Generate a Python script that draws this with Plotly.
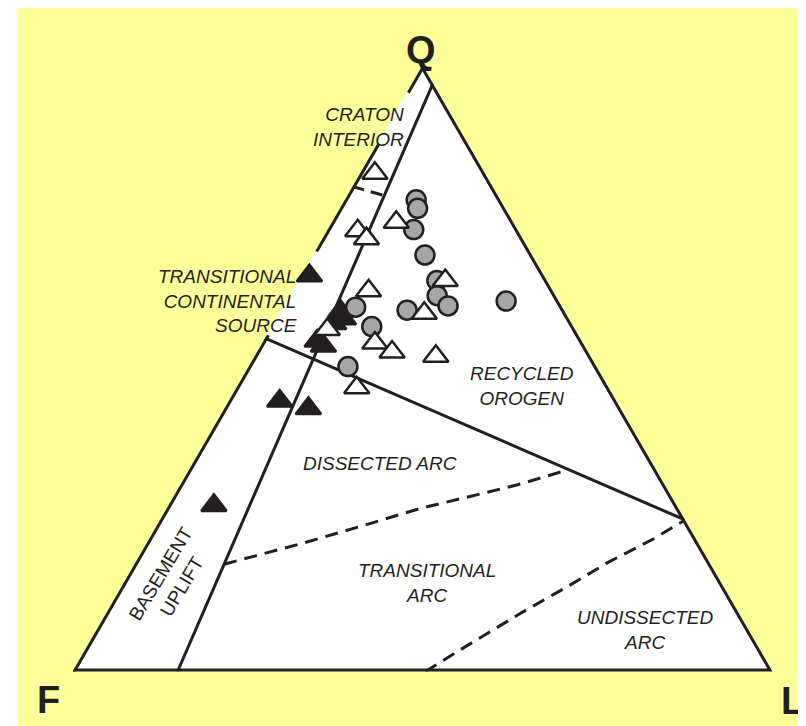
import plotly.graph_objects as go

# the page puts the plot 8px in from the top-left corner of the window
OFF = 8
W, H = 806 - OFF, 726 - OFF

# sample compositions in % (Q, F, L)
open_q = [82.2, 74.1, 72.7, 71.4, 64.5, 62.8, 59.1, 56.4, 54.2, 52.7, 52.0, 46.8]
open_f = [15.7, 16.7, 22.9, 22.3, 14.5, 26.3, 20.2, 35.4, 29.7, 28.0, 22.1, 36.0]
open_l = [2.1, 9.2, 4.4, 6.3, 21.0, 10.9, 20.7, 8.2, 16.1, 19.3, 25.9, 17.2]

solid_q = [65.3, 59.4, 58.2, 57.4, 54.5, 53.7, 44.6, 43.4, 27.4]
solid_f = [33.5, 32.0, 32.2, 34.0, 37.8, 37.3, 48.1, 44.6, 66.1]
solid_l = [1.2, 8.6, 9.6, 8.6, 7.7, 9.0, 7.3, 12.0, 6.5]

grey_q = [77.8, 76.4, 72.9, 68.7, 64.5, 62.0, 60.3, 59.6, 61.1, 60.1, 56.9, 50.3]
grey_f = [12.0, 12.5, 14.8, 15.3, 15.7, 16.9, 16.2, 22.4, 7.5, 29.5, 28.8, 35.5]
grey_l = [10.2, 11.1, 12.3, 16.0, 19.8, 21.1, 23.5, 18.0, 31.4, 10.4, 14.3, 14.2]

# triangle outline (left side broken where the labels sit)
edge_q = [0, 0, 100, None, 100, 95.6, None, 87.2, 69.4, None, 55.6, 0]
edge_f = [100, 0, 0, None, 0, 4.4, None, 12.8, 30.6, None, 44.4, 100]
edge_l = [0, 100, 0, None, 0, 0, None, 0, 0, None, 0, 0]

# field boundaries (Dickinson QFL)
cont_q, cont_f, cont_l = [97, 0], [0, 85], [3, 15]
orog_q, orog_f, orog_l = [55, 25], [45, 0], [0, 75]
crat_q, crat_f, crat_l = [80.0, 78.5], [20.0, 16.2], [0, 5.3]
diss_q = [17.7, 21.0, 23.9, 26.9, 28.6, 30.8, 33.3]
diss_f = [69.5, 57.1, 47.0, 36.9, 29.9, 21.0, 12.5]
diss_l = [12.8, 21.9, 29.1, 36.2, 41.5, 48.2, 54.2]
undi_q = [0, 3.9, 9.6, 14.0, 18.0, 21.9, 25.0]
undi_f = [49.6, 42.2, 31.2, 22.3, 14.5, 6.0, 0]
undi_l = [50.4, 53.9, 59.2, 63.7, 67.5, 72.1, 75.0]

INK = '#231f20'
FONT = 'Liberation Sans, Arial, sans-serif'


# window pixels -> paper fractions
def px(x):
    return (x - OFF) / W


def py(y):
    return 1 - (y - OFF) / H


fig = go.Figure()


def add_line(a, b, c, dash='solid', width=3):
    fig.add_trace(go.Scatterternary(a=a, b=b, c=c, mode='lines',
                                    line=dict(color=INK, width=width, dash=dash),
                                    hoverinfo='skip', showlegend=False))


# lines are clipped to the triangle, so the outline is drawn double width
add_line(edge_q, edge_f, edge_l, width=6)
add_line(cont_q, cont_f, cont_l)
add_line(orog_q, orog_f, orog_l)
add_line(crat_q, crat_f, crat_l, dash='12px,7px')
add_line(diss_q, diss_f, diss_l, dash='13px,8px')
add_line(undi_q, undi_f, undi_l, dash='13px,8px')

fig.add_trace(go.Scatterternary(
    a=solid_q, b=solid_f, c=solid_l, mode='markers', showlegend=False, cliponaxis=False,
    marker=dict(symbol='triangle-up', size=22, color=INK, line=dict(color=INK, width=2.5))))
fig.add_trace(go.Scatterternary(
    a=grey_q, b=grey_f, c=grey_l, mode='markers', showlegend=False, cliponaxis=False,
    marker=dict(symbol='circle', size=19, color='#a6a6a6', line=dict(color=INK, width=2.5))))
fig.add_trace(go.Scatterternary(
    a=open_q, b=open_f, c=open_l, mode='markers', showlegend=False, cliponaxis=False,
    marker=dict(symbol='triangle-up', size=22, color='white', line=dict(color=INK, width=2.5))))

# triangle placement in window pixels: F and L corners, equilateral
fx, lx, base = 72.5, 772.5, 671.5
side = lx - fx
tri_h = side * 3 ** 0.5 / 2
cy = base - tri_h / 2

hidden = dict(showline=False, showgrid=False, showticklabels=False, ticks='',
              title=dict(text=''))
fig.update_layout(
    width=W, height=H,
    margin=dict(l=0, r=0, t=0, b=0),
    paper_bgcolor='white',
    ternary=dict(
        sum=100, bgcolor='white',
        domain=dict(x=[px(fx), px(lx)], y=[py(cy) - tri_h / 2 / H, py(cy) + tri_h / 2 / H]),
        aaxis=hidden, baxis=hidden, caxis=hidden,
    ),
    shapes=[dict(type='rect', xref='paper', yref='paper', x0=px(18), x1=1, y0=0, y1=1,
                 fillcolor='#ffff99', line=dict(width=0), layer='below')],
)

labels = [
    ('<i>CRATON<br>INTERIOR</i>', 406, 127, 'right', 'right', 0),
    ('<i>TRANSITIONAL<br>CONTINENTAL<br>SOURCE</i>', 299, 301, 'right', 'right', 0),
    ('<i>RECYCLED<br>OROGEN</i>', 522, 386, 'center', 'center', 0),
    ('<i>DISSECTED ARC</i>', 380, 464, 'center', 'center', 0),
    ('<i>TRANSITIONAL<br>ARC</i>', 427, 583, 'center', 'center', 0),
    ('<i>UNDISSECTED<br>ARC</i>', 645, 630, 'center', 'center', 0),
    ('BASEMENT<br>UPLIFT', 171.5, 580, 'center', 'center', -59),
]
for text, x, y, xa, al, ang in labels:
    fig.add_annotation(text=text, x=px(x), y=py(y), xref='paper', yref='paper',
                       xanchor=xa, yanchor='middle', align=al, textangle=ang,
                       showarrow=False, font=dict(family=FONT, size=19, color=INK))

for text, x, y in [('Q', 421, 50), ('F', 48, 700), ('L', 792, 701)]:
    fig.add_annotation(text='<b>' + text + '</b>', x=px(x), y=py(y), xref='paper', yref='paper',
                       xanchor='center', yanchor='middle', showarrow=False,
                       font=dict(family=FONT, size=38, color=INK))

fig.write_html("out.html")
